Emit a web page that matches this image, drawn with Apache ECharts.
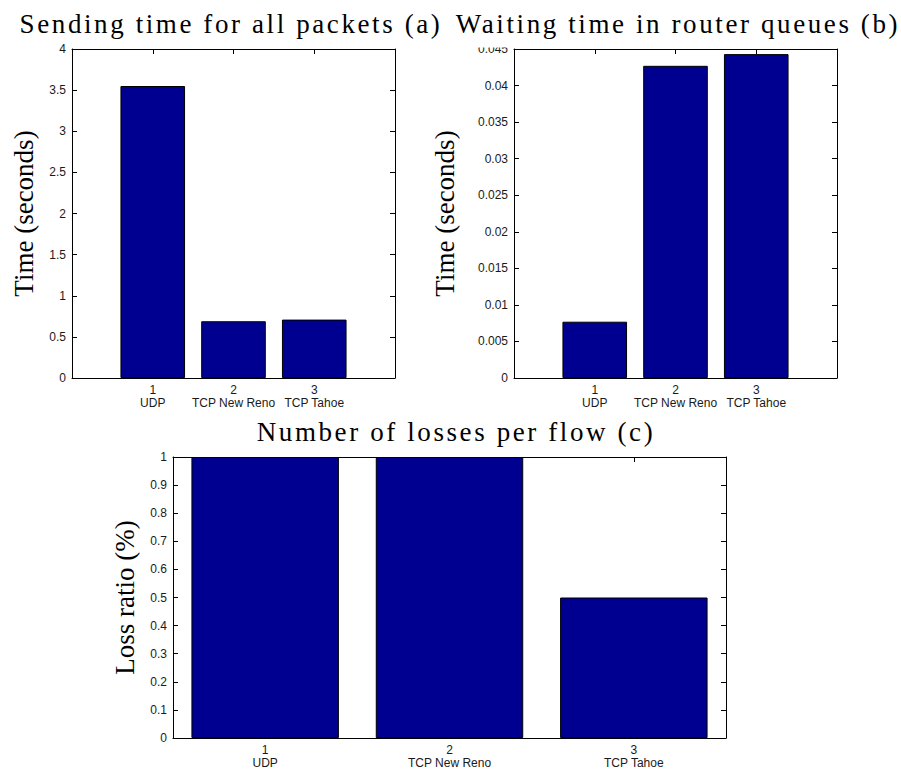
<!DOCTYPE html>
<html>
<head>
<meta charset="utf-8">
<script src="https://cdn.jsdelivr.net/npm/echarts@6/dist/echarts.min.js"></script>
<style>
  html, body { margin: 0; padding: 0; background: #fff; }
  #chart { width: 901px; height: 769px; }
</style>
</head>
<body>
<div id="chart"></div>
<script>
// Protocols compared, one bar each, placed at x = 1, 2, 3
const protocols = ['UDP', 'TCP New Reno', 'TCP Tahoe'];
const positions = [1, 2, 3];

// Measured values
const sendingTime = [3.55, 0.69, 0.71];      // (a) seconds
const queueWait = [0.0077, 0.0427, 0.0443];  // (b) seconds
const lossRatio = [1, 1, 0.5];               // (c) loss ratio

// Panel texts
const titles = [
  'Sending time for all packets (a)',
  'Waiting time in router queues (b)',
  'Number of losses per flow (c)'
];
const yNames = ['Time (seconds)', 'Time (seconds)', 'Loss ratio (%)'];

// Axis ranges: y = [min, max, step], x = [min, max]
const yRanges = [[0, 4, 0.5], [0, 0.045, 0.005], [0, 1, 0.1]];
const xRanges = [[0, 4], [0, 4], [0.5, 3.5]];
const panelValues = [sendingTime, queueWait, lossRatio];

// Layout of the three panels
const grids = [
  { left: 72,  top: 49,  width: 323, height: 329 },
  { left: 514, top: 49,  width: 323, height: 329 },
  { left: 173, top: 457, width: 553, height: 284 }
];
const nameGaps = [35, 56, 35];
const titleAnchors = [[231, 24], [678, 24], [456, 432]];
const BAR_FRACTION = 0.8;

const tickFont = { fontFamily: 'Liberation Sans', fontSize: 12, color: '#1a1a1a' };
const serif = 'Liberation Serif';
const lineBlack = { color: '#000', width: 1 };

const xAxes = [], yAxes = [], series = [], graphics = [];

grids.forEach((g, i) => {
  const [xmin, xmax] = xRanges[i];
  const [ymin, ymax, ystep] = yRanges[i];

  // bottom axis with tick numbers and protocol names
  xAxes.push({
    type: 'value', gridIndex: i, position: 'bottom', min: xmin, max: xmax,
    axisLine: { show: true, onZero: false, lineStyle: lineBlack },
    axisTick: { show: true, inside: true, length: 5, customValues: positions, lineStyle: lineBlack },
    axisLabel: {
      show: true, customValues: positions, margin: 5, lineHeight: 13, ...tickFont,
      formatter: v => {
        const k = positions.indexOf(v);
        return k < 0 ? '' : v + '\n' + protocols[k];
      }
    },
    splitLine: { show: false }
  });
  // top edge of the box
  xAxes.push({
    type: 'value', gridIndex: i, position: 'top', min: xmin, max: xmax,
    axisLine: { show: true, onZero: false, lineStyle: lineBlack },
    axisTick: { show: true, inside: true, length: 5, customValues: positions, lineStyle: lineBlack },
    axisLabel: { show: false },
    splitLine: { show: false }
  });
  // left axis with values and name
  yAxes.push({
    type: 'value', gridIndex: i, position: 'left', min: ymin, max: ymax, interval: ystep,
    name: yNames[i], nameLocation: 'middle', nameGap: nameGaps[i], nameRotate: 90,
    nameTextStyle: { fontFamily: serif, fontSize: 27, color: '#000' },
    axisLine: { show: true, onZero: false, lineStyle: lineBlack },
    axisTick: { show: true, inside: true, length: 5, lineStyle: lineBlack },
    axisLabel: { show: true, margin: 6, ...tickFont },
    splitLine: { show: false }
  });
  // right edge of the box
  yAxes.push({
    type: 'value', gridIndex: i, position: 'right', min: ymin, max: ymax, interval: ystep,
    axisLine: { show: true, onZero: false, lineStyle: lineBlack },
    axisTick: { show: true, inside: true, length: 5, lineStyle: lineBlack },
    axisLabel: { show: false },
    splitLine: { show: false }
  });

  series.push({
    type: 'bar',
    xAxisIndex: i * 2,
    yAxisIndex: i * 2,
    barWidth: g.width / (xmax - xmin) * BAR_FRACTION,
    itemStyle: { color: '#000090', borderColor: '#000', borderWidth: 1 },
    data: positions.map((p, k) => [p, panelValues[i][k]]),
    silent: true
  });

  graphics.push({
    type: 'text',
    x: titleAnchors[i][0],
    y: titleAnchors[i][1],
    z: 100,
    style: {
      text: titles[i],
      fontFamily: serif,
      fontSize: 27,
      fill: '#000',
      align: 'center',
      verticalAlign: 'middle'
    }
  });
});

// White box behind the title of panel (b); it overlaps the top tick label
graphics.push({
  type: 'rect',
  z: 90,
  shape: { x: 455, y: 0, width: 446, height: 47.5 },
  style: { fill: '#fff' }
});

const chart = echarts.init(document.getElementById('chart'), null, { renderer: 'svg' });
chart.setOption({
  animation: false,
  backgroundColor: '#fff',
  grid: grids.map(g => ({ ...g, containLabel: false })),
  xAxis: xAxes,
  yAxis: yAxes,
  series: series,
  graphic: graphics
});

// Panel titles are typeset with wide tracking
function trackTitles() {
  document.querySelectorAll('#chart svg text').forEach(t => {
    if (titles.includes(t.textContent.trim())) {
      t.setAttribute('letter-spacing', '2.6');
    }
  });
}
chart.on('finished', trackTitles);
trackTitles();
</script>
</body>
</html>
